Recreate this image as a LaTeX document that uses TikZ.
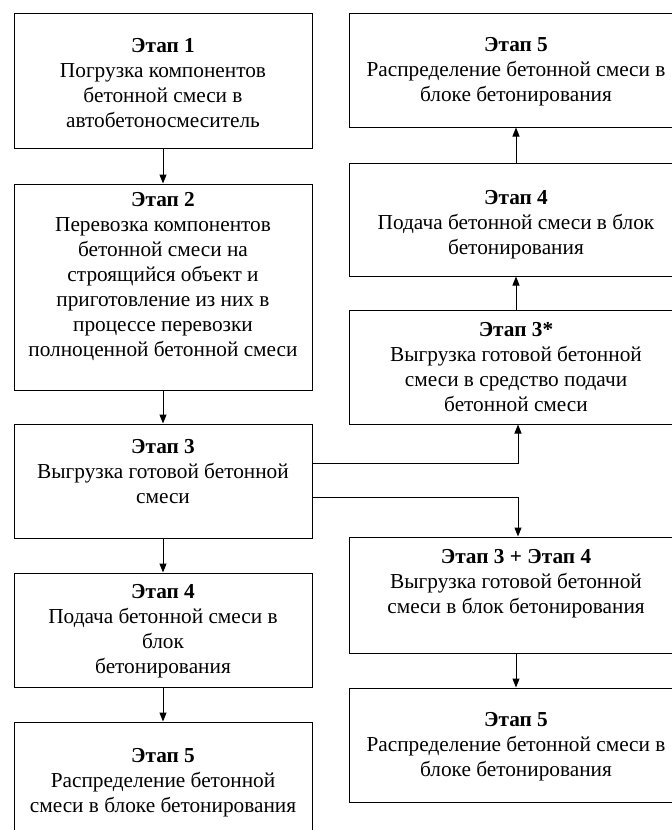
\documentclass[tikz,border=0pt]{standalone}
\usepackage{fontspec}
\setmainfont{Liberation Serif}
\usetikzlibrary{arrows.meta}
\begin{document}
\begin{tikzpicture}[x=1pt,y=-1pt,
  box/.style={draw, line width=1pt, rectangle, inner sep=0pt},
  lbox/.style={box, minimum width=298pt},
  rbox/.style={box, minimum width=334pt},
  txt/.style={align=center, font=\fontsize{21.3}{25}\selectfont, inner sep=0pt},
  arr/.style={line width=1pt, -{Triangle[length=9pt,width=7pt]}}]
\useasboundingbox (0,0) rectangle (672,830);
\clip (0,0) rectangle (672,830);
% left column
\node[lbox, minimum height=135pt] (L1) at (163,80.5) {};
\node[lbox, minimum height=206pt] (L2) at (163,287) {};
\node[lbox, minimum height=114pt] (L3) at (163,481) {};
\node[lbox, minimum height=114pt] (L4) at (163,630) {};
\node[lbox, minimum height=120pt] (L5) at (163,782) {};
% right column
\node[rbox, minimum height=114pt] (R5) at (516,70) {};
\node[rbox, minimum height=113pt] (R4) at (516,219.5) {};
\node[rbox, minimum height=114pt] (R3) at (516,367) {};
\node[rbox, minimum height=116pt] (R34) at (516,595) {};
\node[rbox, minimum height=114pt] (R5b) at (516,745) {};
% texts
\node[txt] (tL1) at (163,83) {\textbf{Этап 1}\\Погрузка компонентов\\бетонной смеси в\\автобетоносмеситель};
\node[txt] (tL2) at (163,277) {\textbf{Этап 2}\\Перевозка компонентов\\бетонной смеси на\\строящийся объект и\\приготовление из них в\\процессе перевозки\\полноценной бетонной смеси};
\node[txt] (tL3) at (163,471.5) {\textbf{Этап 3}\\Выгрузка готовой бетонной\\смеси};
\node[txt] (tL4) at (163,631) {\textbf{Этап 4}\\Подача бетонной смеси в\\блок\\бетонирования};
\node[txt] (tL5) at (163,782.5) {\textbf{Этап 5}\\Распределение бетонной\\смеси в блоке бетонирования};
\node[txt] (tR5) at (516,71.5) {\textbf{Этап 5}\\Распределение бетонной смеси в\\блоке бетонирования};
\node[txt] (tR4) at (516,224.5) {\textbf{Этап 4}\\Подача бетонной смеси в блок\\бетонирования};
\node[txt] (tR3) at (516,367) {\textbf{Этап 3*}\\Выгрузка готовой бетонной\\смеси в средство подачи\\бетонной смеси};
\node[txt] (tR34) at (516,583.5) {\textbf{Этап 3 + Этап 4}\\Выгрузка готовой бетонной\\смеси в блок бетонирования};
\node[txt] (tR5b) at (516,746.5) {\textbf{Этап 5}\\Распределение бетонной смеси в\\блоке бетонирования};
% connectors
\draw[arr] (L1) -- (L2);
\draw[arr] (L2) -- (L3);
\draw[arr] (L3) -- (L4);
\draw[arr] (L4) -- (L5);
\draw[arr] (R3) -- (R4);
\draw[arr] (R4) -- (R5);
\draw[arr] (R34) -- (R5b);
\draw[arr] ([yshift=18pt]L3.east) -| ([xshift=2pt]R3.south);
\draw[arr] ([yshift=-16pt]L3.east) -| ([xshift=2pt]R34.north);
\end{tikzpicture}
\end{document}
